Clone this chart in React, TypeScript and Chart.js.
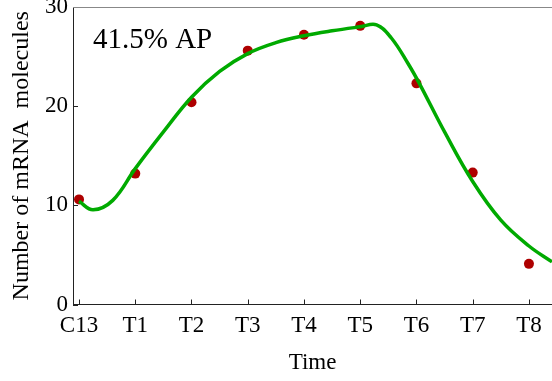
import React, { useEffect, useRef } from "react";
import { Chart, registerables } from "chart.js";

Chart.register(...registerables);

const categories = ["C13", "T1", "T2", "T3", "T4", "T5", "T6", "T7", "T8"];
const measured = [10.6, 13.2, 20.4, 25.6, 27.2, 28.1, 22.3, 13.3, 4.1];
const fitX = [0, 0.25, 0.6, 1.0, 1.5, 2.0, 2.5, 3.0, 3.5, 4.0, 4.5, 5.0, 5.29, 5.55, 5.85, 6.06, 6.5, 7.0, 7.5, 8.0, 8.41];
const fitY = [10.4, 9.55, 10.5, 13.7, 17.4, 20.9, 23.5, 25.3, 26.4, 27.1, 27.6, 28.0, 28.2, 26.9, 24.3, 22.2, 17.4, 12.4, 8.5, 5.9, 4.3];
const yTicks = [0, 10, 20, 30];
const annotation = "41.5% AP";
const xTitle = "Time";
const yTitle = "Number of mRNA  molecules";

const FONT = "'Liberation Serif', 'Times New Roman', serif";

const framePlugin = {
  id: "frame",
  afterDraw(chart: any) {
    const { ctx, chartArea } = chart;
    const xs = chart.scales.x;
    const ys = chart.scales.y;
    ctx.save();
    ctx.strokeStyle = "#222";
    ctx.lineWidth = 1;
    ctx.beginPath();
    xs.ticks.forEach((t: any) => {
      const px = Math.round(xs.getPixelForValue(t.value)) + 0.5;
      ctx.moveTo(px, chartArea.bottom);
      ctx.lineTo(px, chartArea.bottom - 5);
    });
    ys.ticks.forEach((t: any) => {
      const py = Math.round(ys.getPixelForValue(t.value)) + 0.5;
      ctx.moveTo(chartArea.left, py);
      ctx.lineTo(chartArea.left + 5, py);
    });
    ctx.stroke();
    ctx.strokeStyle = "#888";
    ctx.beginPath();
    ctx.moveTo(chartArea.left, chartArea.top + 0.5);
    ctx.lineTo(chartArea.right, chartArea.top + 0.5);
    ctx.stroke();
    ctx.fillStyle = "#000";
    ctx.font = `29px ${FONT}`;
    ctx.textBaseline = "alphabetic";
    ctx.textAlign = "left";
    ctx.fillText(annotation, chartArea.left + 20, chartArea.top + 41);
    ctx.restore();
  },
};

export default function App() {
  const ref = useRef<HTMLCanvasElement | null>(null);
  useEffect(() => {
    if (!ref.current) return;
    const chart = new Chart(ref.current, {
      type: "scatter",
      data: {
        datasets: [
          {
            label: "fit",
            data: fitX.map((x, i) => ({ x, y: fitY[i] })),
            showLine: true,
            borderColor: "#00AA00",
            borderWidth: 3.5,
            pointRadius: 0,
            tension: 0.4,
            order: 0,
          } as any,
          {
            label: "data",
            data: measured.map((y, i) => ({ x: i, y })),
            backgroundColor: "#AE0000",
            borderWidth: 0,
            pointRadius: 5,
            order: 1,
          },
        ],
      },
      options: {
        animation: false,
        responsive: true,
        maintainAspectRatio: false,
        layout: { padding: { top: 7, right: 0, left: 0, bottom: 0 }, autoPadding: false } as any,
        plugins: { legend: { display: false }, tooltip: { enabled: false } },
        scales: {
          x: {
            type: "linear",
            min: -0.107,
            max: 8.41,
            grid: { display: false, drawTicks: false },
            border: { display: true, color: "#222", width: 1 },
            afterBuildTicks: (s: any) => {
              s.ticks = categories.map((_, i) => ({ value: i }));
            },
            afterFit: (s: any) => {
              s.height = 76.5;
              s.paddingLeft = 0;
              s.paddingRight = 0;
            },
            ticks: {
              padding: 8,
              color: "#000",
              font: { family: FONT, size: 23 },
              maxRotation: 0,
              autoSkip: false,
              callback: (v: any) => categories[Math.round(v)] ?? "",
            },
            title: {
              display: true,
              text: xTitle,
              color: "#000",
              font: { family: FONT, size: 23 },
              padding: { top: 0, bottom: 4 },
            },
          },
          y: {
            min: 0,
            max: 30,
            grid: { display: false, drawTicks: false },
            border: { display: true, color: "#222", width: 1 },
            afterBuildTicks: (s: any) => {
              s.ticks = yTicks.map((v) => ({ value: v }));
            },
            afterFit: (s: any) => {
              s.width = 73;
              s.paddingTop = 0;
              s.paddingBottom = 0;
            },
            ticks: {
              padding: 5,
              color: "#000",
              font: { family: FONT, size: 23 },
            },
            title: {
              display: true,
              text: yTitle,
              color: "#000",
              font: { family: FONT, size: 24 },
              padding: { top: 7, bottom: 0 },
            },
          },
        },
      },
      plugins: [framePlugin],
    });
    return () => chart.destroy();
  }, []);
  return (
    <div style={{ position: "absolute", left: 0, top: 0, width: 552, height: 381, background: "#fff" }}>
      <canvas ref={ref} />
    </div>
  );
}
